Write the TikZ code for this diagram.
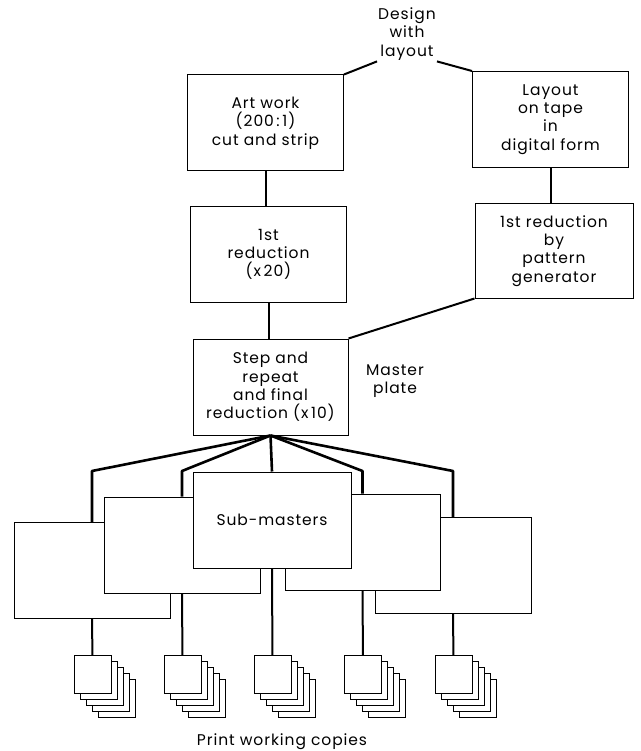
\documentclass[tikz,border=0pt]{standalone}
\usepackage{fontspec}
\setmainfont{Poppins}[LetterSpace=6]
\usetikzlibrary{calc,positioning}
\tikzstyle{stagebox} = [draw, line width=1, fill=white, align=center,
  inner sep=0pt, minimum width=156, minimum height=96]
\tikzstyle{link} = [line width=2]
\tikzstyle{fan} = [line width=2.6, line join=round]
\tikzstyle{sheet} = [draw, line width=0.9, fill=white, inner sep=0pt,
  minimum width=37, minimum height=38]

\begin{document}
\begin{tikzpicture}[x=1pt, y=-1pt, font=\fontsize{15.5}{18.3}\selectfont]
  \useasboundingbox (0,0) rectangle (640,751);

  % design input
  \node[align=center, inner sep=1pt] (design) at (407,34) {Design\\with\\layout};

  % manual route
  \node[stagebox] (art) at (265.5,123) {Art work\\(200\,:\,1)\\cut and strip};
  \node[stagebox] (red1) at (268.5,254.5) {1st\\reduction\\(x\,20)};

  % digital route
  \node[stagebox] (tape) at (550.5,119.5) {Layout\\on tape\\in\\digital form};
  \node[stagebox, minimum width=158, minimum height=94] (pg) at (554,251)
    {1st reduction\\by\\pattern\\generator};

  % master plate
  \node[stagebox, minimum width=155] (master) at (270.5,387)
    {Step and\\repeat\\and final\\reduction (x\,10)};
  \node[align=center, inner sep=0pt] (plate) at (395,381) {Master\\plate};

  \draw[link] (design.south west) -- (art.north east);
  \draw[link] (design.south east) -- (tape.north west);
  \draw[link] (art.south) -- (art.south |- red1.north);
  \draw[link] (tape.south) -- (tape.south |- pg.north);
  \draw[link] (red1.south) -- (red1.south |- master.north);
  \draw[link] (pg.south west) -- (master.north east);

  % sub-masters, back to front
  \node[stagebox] (s1) at (92,570.5) {};
  \node[stagebox] (s5) at (453,565.5) {};
  \node[stagebox] (s2) at (182,545) {};
  \node[stagebox, minimum width=155] (s4) at (362.5,542) {};
  \node[stagebox, minimum width=158] (s3) at (272,520) {Sub-masters};

  \foreach \s in {s1,s2,s4,s5}
    \draw[fan] (master.south) -- (\s.north |- 0,471) -- (\s.north);
  \draw[fan] (master.south) -- (s3.north);

  % working copies
  \foreach \i/\x in {1/73.5,2/163.5,3/253.5,4/344,5/434.5} {
    \foreach \k in {4,3,2,1}
      \node[sheet, anchor=north west] at (\x+6*\k,655+6*\k) {};
    \node[sheet, anchor=north west] (c\i) at (\x,655) {};
  }
  \foreach \i in {1,...,5}
    \draw[link] (s\i.south) -- (c\i.north);

  \node (print) at (282,742) {Print working copies};
\end{tikzpicture}
\end{document}
